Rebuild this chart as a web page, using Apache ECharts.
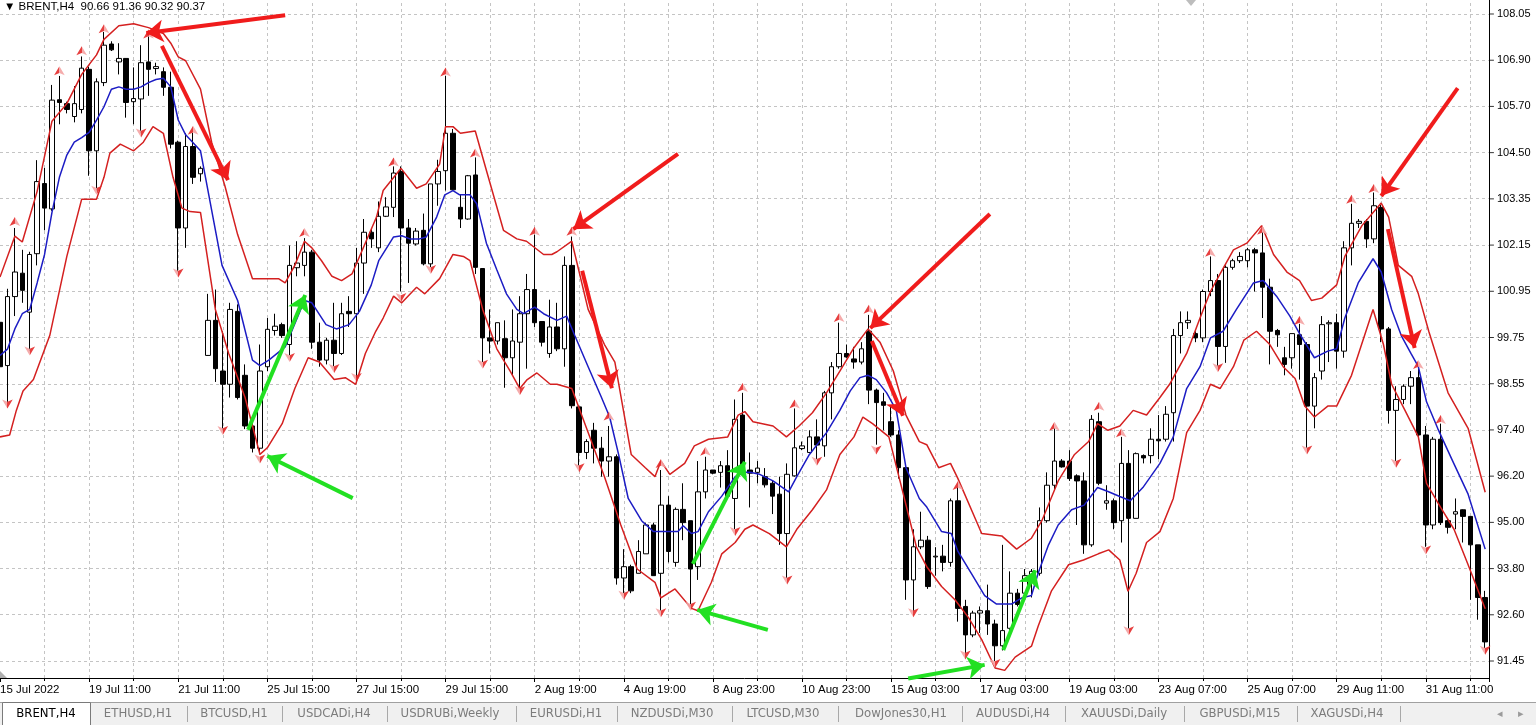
<!DOCTYPE html>
<html><head><meta charset="utf-8">
<script src="https://cdn.jsdelivr.net/npm/echarts@6/dist/echarts.min.js"></script>
<style>html,body{margin:0;padding:0;background:#fff;overflow:hidden}#c{width:1536px;height:725px}</style>
</head><body><div id="c"></div>
<script>
// ---------- DATA ----------
const opens  = [100.14,99.03,100.8,101.4,100.4,101.9,103.7,103.05,105.85,105.75,105.42,105.6,106.63,104.54,106.29,107.28,106.82,106.91,105.8,105.87,106.82,106.65,106.57,106.17,104.76,102.56,104.65,103.95,99.29,100.19,98.89,98.55,100.42,98.78,97.48,96.91,99.0,99.93,100.08,99.57,101.54,101.6,101.94,99.63,99.17,99.68,99.34,100.42,100.36,101.66,102.45,102.05,102.86,103.09,104.01,102.56,102.15,102.5,101.64,103.69,104.03,104.99,103.09,102.79,103.92,101.52,99.74,99.66,99.72,99.23,99.63,100.36,100.98,100.16,99.34,100.02,99.46,101.6,97.97,96.8,97.37,96.91,96.58,96.69,93.58,93.87,93.7,94.2,94.94,93.7,95.45,93.98,95.34,95.05,93.87,95.79,96.35,96.29,96.46,95.62,97.76,96.35,96.29,96.18,96.01,95.73,94.72,96.2,96.9,96.8,97.2,96.97,98.33,99.0,99.34,99.2,99.12,99.91,98.4,98.1,97.59,97.25,96.41,93.53,94.38,94.55,94.12,94.14,93.98,95.56,92.85,92.12,92.68,92.74,92.4,91.84,92.29,93.19,93.19,93.58,93.7,95.05,95.96,96.58,96.58,96.2,96.07,94.43,97.59,95.5,95.56,95.05,96.52,95.11,96.72,96.72,97.14,97.14,97.82,99.8,100.13,99.85,99.74,100.93,101.21,99.52,101.55,101.72,101.72,102.0,101.92,101.04,99.93,99.23,99.23,99.82,99.57,97.99,98.89,100.1,100.13,99.4,102.05,102.68,102.73,102.28,103.09,99.97,97.88,98.16,98.5,98.72,97.25,94.94,97.14,95.05,95.22,95.33,95.16,94.43,93.08];
const highs  = [100.4,101.0,102.56,102.0,101.95,104.3,104.1,106.23,106.46,105.8,106.2,106.96,106.7,106.4,107.59,107.35,107.3,106.92,106.68,107.25,107.47,106.8,106.68,106.57,104.8,104.99,105.0,104.14,100.87,100.98,99.91,100.64,100.6,99.06,97.59,99.57,100.25,100.36,100.13,102.11,102.22,102.3,102.0,100.13,99.74,100.64,100.64,100.81,102.05,102.79,102.56,103.24,103.35,104.14,104.14,102.79,102.56,102.93,103.69,104.31,106.46,105.1,103.41,103.92,104.37,101.52,100.47,100.13,100.19,100.47,100.81,101.38,102.39,100.16,100.72,100.64,101.83,102.34,98.0,97.14,97.56,97.2,97.48,96.75,94.32,93.92,94.55,95.0,95.0,96.35,95.68,95.39,96.01,95.05,96.58,96.69,96.35,96.58,96.86,98.16,98.33,96.8,96.58,96.4,96.07,96.18,96.52,97.93,97.08,97.37,97.65,98.38,99.12,100.13,99.57,99.51,99.63,100.33,98.44,98.33,97.99,97.37,96.52,94.83,95.28,94.66,94.37,94.43,95.62,95.9,93.02,92.74,92.85,93.41,92.51,94.43,93.75,93.3,93.81,93.81,95.39,96.29,97.42,96.63,96.86,96.24,96.29,97.76,97.82,95.96,95.62,97.2,96.86,96.8,96.75,97.42,97.76,97.99,99.97,100.42,100.42,99.91,100.98,101.83,101.38,101.6,101.77,101.94,102.05,102.05,102.45,101.26,99.97,99.51,99.85,100.1,99.63,98.84,100.3,100.19,100.36,102.22,103.18,102.79,102.79,103.47,103.15,100.02,98.5,98.55,98.89,98.95,97.48,97.2,97.54,95.11,95.62,95.34,95.16,94.43,93.25];
const lows   = [98.65,98.1,100.3,100.64,99.4,101.6,102.5,103.0,105.22,105.5,105.27,105.5,103.9,103.52,106.2,107.1,106.5,105.39,105.22,104.99,105.95,106.5,105.95,104.6,101.43,102.05,103.69,103.75,99.28,98.61,97.37,98.21,98.16,97.4,96.8,96.75,98.89,99.8,99.74,99.29,101.32,101.32,99.46,99.0,99.06,99.0,99.3,100.02,98.72,100.87,102.05,101.94,102.84,102.84,100.93,101.15,102.11,101.6,101.55,103.13,103.52,103.52,102.56,102.77,101.38,99.12,99.34,99.57,98.46,98.78,98.44,98.95,100.02,99.52,99.23,99.4,99.0,97.93,96.46,96.63,96.52,96.18,96.18,93.41,93.19,93.19,93.7,94.2,93.64,92.74,93.98,93.87,94.55,92.8,93.53,95.62,96.24,95.9,95.62,94.83,96.35,95.39,96.01,95.9,95.22,94.43,93.58,96.18,96.86,96.8,96.63,96.69,97.65,98.95,99.23,98.95,99.06,98.04,97.0,97.37,97.2,96.13,93.02,92.74,94.32,93.3,93.64,93.75,93.87,92.46,91.66,92.06,92.17,92.12,91.44,91.72,92.23,92.85,93.13,93.08,93.64,95.0,95.84,96.41,96.07,94.94,94.2,94.38,95.96,95.33,94.83,94.49,92.28,95.11,96.52,96.52,96.63,97.08,97.08,99.34,99.97,99.63,99.63,100.81,99.0,99.1,101.49,101.66,101.55,100.93,100.25,99.06,99.51,98.78,98.95,98.67,96.92,97.42,98.67,99.12,98.95,99.23,101.6,102.56,102.05,102.17,99.63,97.54,96.58,98.04,98.04,97.2,94.38,94.83,94.94,94.72,94.83,94.49,93.02,92.51,91.78];
const closes = [99.0,100.8,101.43,100.96,101.88,103.75,103.07,105.84,105.78,105.6,105.75,106.66,104.54,106.31,107.25,107.13,106.91,105.78,105.88,106.8,106.63,106.7,106.17,104.71,102.56,104.65,103.86,104.09,100.19,98.95,98.55,100.47,98.21,97.48,96.91,98.89,99.96,100.04,99.8,101.6,101.66,101.94,99.63,99.17,99.68,99.34,100.36,100.36,101.66,102.45,102.28,102.86,103.1,103.97,102.56,102.17,102.48,101.64,103.69,104.01,104.99,103.54,102.79,103.9,101.55,99.74,99.66,100.13,99.23,99.66,100.36,100.98,100.13,99.63,100.02,99.46,101.6,98.0,96.8,97.08,96.91,96.58,96.69,93.58,93.87,93.25,94.26,94.94,93.64,95.45,94.26,95.34,95.0,93.81,95.79,96.35,96.27,96.46,95.68,97.65,96.46,96.27,96.4,95.97,95.68,94.72,96.24,96.92,96.97,97.2,96.99,98.33,99.0,99.34,99.25,99.12,99.46,98.4,98.08,98.01,97.25,96.41,93.53,94.38,94.55,93.36,94.14,93.98,95.56,92.8,92.12,92.68,92.74,92.4,91.84,92.23,93.19,92.9,93.64,93.75,95.05,95.96,96.58,96.43,96.13,96.07,94.43,97.65,96.01,95.56,95.0,96.52,95.11,96.77,96.66,97.14,97.1,97.78,99.8,100.13,100.19,99.74,100.93,101.21,99.52,101.55,101.72,101.83,102.0,101.92,101.04,99.91,99.82,99.06,99.85,99.57,97.99,98.72,100.08,100.13,99.4,102.05,102.68,102.73,102.28,103.13,99.97,97.88,98.16,98.5,98.72,97.25,94.94,97.14,95.0,94.88,95.28,95.16,94.43,93.08,91.94];

// indicator lines: [bar, price]
const upperBand = [[0,101.3],[2,102.35],[3,102.2],[5,103.5],[7,105.3],[9,105.75],[11,106.5],[13,107.0],[14,107.4],[16,107.75],[18,107.8],[20,107.7],[22,107.55],[23,107.3],[24,106.95],[25,106.85],[27,106.12],[28.5,104.76],[30.3,103.63],[32,102.39],[34,101.26],[37.5,101.26],[38.4,101.15],[39.7,101.6],[41,102.22],[42,102.05],[43.3,101.72],[44.7,101.32],[46,101.21],[47.4,101.38],[49.3,102.22],[50.7,102.84],[51.6,103.52],[54,104.09],[56.1,103.58],[57.4,103.69],[59.2,104.2],[60,105.16],[61,105.16],[62,104.99],[64,105.05],[65.6,103.97],[67.8,102.5],[69.6,102.28],[70.9,102.22],[73.2,101.88],[74.3,101.88],[75,101.95],[77,102.22],[79.2,100.47],[81.4,99.57],[82.8,99.12],[85,96.75],[86.9,96.41],[88.2,96.18],[89,96.58],[90.2,96.24],[92.2,96.52],[93.5,96.97],[95.4,97.14],[98,97.2],[99.4,97.76],[100.3,97.85],[101.4,97.59],[104.1,97.48],[105.9,97.2],[107.6,97.48],[109.4,97.82],[111.3,98.33],[113.1,98.89],[114.9,99.46],[116.9,99.97],[118.5,99.63],[120.3,98.89],[122,97.76],[123.8,97.08],[124.8,97.0],[126.4,96.41],[128,96.52],[129,96.13],[132.2,94.72],[134.9,94.66],[136.9,94.32],[138.9,94.6],[140.3,95.05],[142.5,96.07],[144.7,96.75],[146.6,97.08],[147.8,97.54],[149.2,97.37],[150.8,97.48],[152.6,97.88],[154.4,97.76],[156.2,98.21],[157.5,98.55],[159.8,99.34],[161.6,100.25],[163,100.93],[164.3,101.38],[166.1,102.0],[167.9,102.17],[169.9,102.62],[171.5,101.88],[173.3,101.43],[175,101.21],[176.6,100.7],[178,100.76],[180,101.1],[181.1,101.83],[183.4,102.62],[186,103.2],[187,102.84],[188.3,101.6],[190.1,101.32],[191,100.87],[192.4,99.91],[195,98.33],[197.7,97.42],[200,95.78]];
const middleLine = [[0,99.29],[1,99.45],[2,99.97],[3,100.36],[4,100.47],[5,101.15],[6,101.88],[7,102.96],[8,103.86],[9,104.43],[10,104.76],[11,104.88],[12,105.01],[13,105.33],[14,105.67],[15,106.12],[16,106.18],[17,106.12],[18,106.12],[19,106.18],[20,106.29],[21,106.37],[22,106.4],[23,106.18],[24,105.33],[25,104.95],[27,104.54],[29.9,101.6],[32,100.7],[34,99.17],[35,99.03],[36.2,99.17],[38.4,99.51],[41,100.7],[42,100.64],[43.9,100.08],[45.3,99.97],[47,100.08],[48.4,100.42],[50,101.1],[51,101.72],[53,102.33],[54.1,102.36],[55.2,102.28],[56.5,102.28],[57.4,102.33],[58.8,102.84],[59.9,103.41],[61,103.52],[61.9,103.41],[63.3,103.41],[64.2,103.18],[65.5,102.17],[66.9,101.49],[68.2,100.87],[69.6,100.47],[70.5,100.36],[72,100.53],[73.2,100.36],[75,100.19],[76.3,100.3],[77.4,99.8],[79.2,99.0],[81,98.21],[82.1,97.71],[83.3,96.75],[84.6,95.62],[86.4,95.05],[88,94.77],[90,94.77],[91.3,94.77],[92,94.92],[93.1,94.72],[94,94.77],[95.4,95.28],[97.2,95.68],[99,96.18],[100.3,96.29],[101,96.29],[102.3,96.24],[104.1,96.07],[106.2,95.79],[107.3,96.18],[109,96.75],[111.3,97.31],[113.1,97.88],[114.5,98.38],[115.8,98.72],[116.9,98.78],[118,98.67],[119.4,98.33],[120.7,97.88],[122,96.41],[123.8,95.62],[124.8,95.4],[126.8,94.77],[128.1,94.72],[129,94.26],[130.8,93.7],[132.6,93.13],[134.2,92.91],[136.2,92.91],[137.6,93.07],[138.9,93.13],[139.8,93.7],[141.2,94.43],[142.5,94.94],[144.3,95.33],[146,95.45],[147.8,95.9],[149.2,95.8],[150.8,95.67],[152.2,95.56],[153.9,95.9],[156.2,96.52],[158,97.2],[159.8,98.44],[161.6,99.0],[163,99.74],[164.7,99.91],[166.5,100.47],[168.8,101.15],[170.1,101.21],[171.9,100.81],[173.7,100.3],[175,99.85],[177,99.23],[178.8,99.4],[180,99.46],[181.1,100.25],[182.9,101.15],[184.9,101.77],[186,101.43],[187.4,100.47],[188.7,99.8],[190,99.34],[191,99.0],[192.1,98.1],[193.6,97.42],[195.5,96.63],[197.7,95.73],[200,94.32]];
const lowerBand = [[0,97.2],[1.3,97.25],[2.2,97.88],[3.1,98.38],[4.5,98.67],[6.7,99.8],[9,101.83],[11,103.3],[13,103.3],[14,103.86],[14.8,104.48],[16.2,104.71],[18,104.54],[19.3,104.76],[20.6,105.16],[22,104.99],[23.3,103.86],[24.5,103.07],[25.6,102.98],[27,102.96],[29,100.47],[30.8,99.34],[33,98.21],[35,96.75],[36,96.92],[38,97.54],[39.7,98.44],[41.5,99.23],[43,99.12],[45,98.67],[46.5,98.72],[47.9,98.55],[49.2,99.34],[50.6,99.91],[51.6,100.25],[53,100.81],[54.1,100.64],[56.1,101.04],[57.2,100.87],[59.2,101.26],[61,101.88],[62.4,101.83],[63.3,101.72],[65,100.47],[66.9,99.46],[68.7,98.89],[70,98.44],[71,98.67],[72.3,98.84],[74.1,98.55],[75,98.55],[77,98.44],[79.2,97.31],[81.4,96.18],[83.6,94.94],[85.8,93.81],[88.2,93.47],[89,93.07],[90.9,93.3],[93.1,92.8],[94,92.74],[95.8,93.47],[97.2,94.2],[99,94.49],[100.3,94.83],[101.4,94.94],[103.6,94.72],[105.9,94.38],[107.3,94.83],[109.4,95.33],[111.3,95.84],[113.1,96.75],[115,97.2],[116.2,97.71],[117.5,97.54],[119.7,97.2],[121.5,95.84],[123.4,94.38],[124.8,93.87],[126.8,93.36],[128.6,93.02],[130.4,92.57],[132.2,92.0],[134,91.27],[135.3,91.21],[136.7,91.55],[138.9,91.83],[139.8,92.34],[141.6,93.25],[143.9,93.92],[145.9,94.04],[147.9,94.2],[149.3,94.3],[150.8,94.04],[151.9,93.24],[153,93.7],[154.4,94.49],[156.2,94.77],[158,95.62],[159.8,97.31],[161.6,97.88],[163,98.55],[164.3,98.44],[166.1,99.0],[167.5,99.68],[169.2,99.91],[171,99.57],[172.8,99.0],[174.4,98.7],[175.7,97.99],[177,97.71],[178.8,97.99],[180,97.99],[182,98.78],[184.9,100.47],[186.3,99.57],[187.4,98.55],[189.2,97.88],[191,97.2],[192.1,96.01],[194,95.39],[195.8,94.83],[197.7,93.92],[200,92.79]];

// fractal markers: [bar, price]
const upFractals = [[2,102.84],[8,106.71],[11,107.22],[14,107.79],[20,107.65],[26,105.18],[41,102.56],[53,104.37],[60,106.68],[64,104.6],[72,102.59],[77,102.59],[82,97.85],[89,96.63],[95,96.95],[100,98.58],[107,98.16],[113,100.38],[117,100.59],[129,96.07],[142,97.59],[148,98.1],[151,97.42],[163,102.05],[170,102.62],[175,100.3],[182,103.41],[185,103.69],[191,99.17],[194,97.76]];
const downFractals = [[1,97.93],[4,99.29],[13,103.41],[19,104.88],[24,101.29],[30,97.25],[35,96.52],[39,99.12],[45,98.84],[48,98.61],[54,100.66],[58,101.38],[65,98.95],[70,98.27],[78,96.29],[84,93.02],[89,92.57],[93,92.74],[99,94.66],[106,93.41],[110,96.46],[118,96.75],[123,92.57],[130,91.49],[134,91.27],[152,92.11],[164,98.86],[176,96.75],[188,96.41],[192,94.18],[200,91.61]];

// annotation arrows: [fromBar, fromPrice, toBar, toPrice]
const redArrows = [[38.4,108.02,19.7,107.56],[21.8,107.23,30.7,103.79],[91.3,104.46,77.2,102.53],[78.4,101.46,82.4,98.45],[133.3,102.92,117.2,99.99],[117.4,99.66,121.6,97.74],[196.3,106.15,186.0,103.38],[186.9,102.53,190.5,99.48]];
const greenArrows = [[33.4,97.38,41.1,100.84],[47.5,95.63,36.0,96.71],[93.3,93.94,100.3,96.56],[103.4,92.25,93.9,92.76],[135.1,91.73,139.4,93.78],[122.3,91.0,132.6,91.35]];

// axes
const xTickLabels = ['15 Jul 2022','19 Jul 11:00','21 Jul 11:00','25 Jul 15:00','27 Jul 15:00','29 Jul 15:00','2 Aug 19:00','4 Aug 19:00','8 Aug 23:00','10 Aug 23:00','15 Aug 03:00','17 Aug 03:00','19 Aug 03:00','23 Aug 07:00','25 Aug 07:00','29 Aug 11:00','31 Aug 11:00'];
const yTickValues = [108.05,106.864,105.679,104.493,103.307,102.121,100.936,99.75,98.564,97.379,96.193,95.007,93.821,92.636,91.45];
const yTickLabels = ['108.05','106.90','105.70','104.50','103.35','102.15','100.95','99.75','98.55','97.40','96.20','95.00','93.80','92.60','91.45'];
const headerText = '\u25BC BRENT,H4  90.66 91.36 90.32 90.37';
const tabNames = ['BRENT,H4','ETHUSD,H1','BTCUSD,H1','USDCADi,H4','USDRUBi,Weekly','EURUSDi,H1','NZDUSDi,M30','LTCUSD,M30','DowJones30,H1','AUDUSDi,H4','XAUUSDi,Daily','GBPUSDi,M15','XAGUSDi,H4'];

// ---------- LAYOUT ----------
const LABEL_STEP = 12, GRID_STEP = 6;
const tabCenters = [46,138,234,334,450,566,672,783,901,1013,1124,1240,1347];
const tabSeps = [187,282,387,516,617,732,838,962,1065,1184,1297,1400];
const FONT = 'Liberation Sans, Arial, sans-serif';
const TAB_FONT = '"DejaVu Sans Condensed", "Liberation Sans", sans-serif';

const nBars = opens.length;
const candles = opens.map((o, i) => [i, o, closes[i], lows[i], highs[i]]);
const vGrid = [];
for (let i = GRID_STEP; i < nBars; i += GRID_STEP) vGrid.push(i);

const chart = echarts.init(document.getElementById('c'), null, {renderer: 'canvas'});

const gridMarks = yTickValues.map((v, i) => ({
  yAxis: v,
  label: {show: true, position: 'end', distance: 8, formatter: yTickLabels[i], color: '#000', fontSize: 11, fontFamily: FONT}
})).concat(vGrid.map(i => ({xAxis: i, label: {show: false}})));

const fractalColor = new echarts.graphic.LinearGradient(0, 0, 1, 0, [
  {offset: 0, color: '#e42a2a'}, {offset: 0.5, color: '#e42a2a'},
  {offset: 0.5, color: '#f4a2a2'}, {offset: 1, color: '#f4a2a2'}]);

const graphics = [
  {type: 'text', left: 4, top: 1, z: 50, style: {text: headerText, fill: '#000', font: '11.5px ' + FONT}},
  {type: 'polygon', z: 50, shape: {points: [[1186,0],[1196,0],[1191,6]]}, style: {fill: '#bdbdbd'}},
  {type: 'polygon', z: 50, shape: {points: [[0,671],[7,678],[0,678]]}, style: {fill: '#b0b0b0'}},
  {type: 'rect', z: 40, shape: {x: 0, y: 702, width: 1536, height: 23}, style: {fill: '#f0f0f0'}},
  {type: 'line', z: 41, shape: {x1: 0, y1: 702.5, x2: 1536, y2: 702.5}, style: {stroke: '#a0a0a0', lineWidth: 1}},
  {type: 'rect', z: 42, shape: {x: 2.5, y: 702.5, width: 88, height: 25}, style: {fill: '#fff', stroke: '#7a7a7a', lineWidth: 1}},
  {type: 'text', z: 45, x: 1500, y: 714, style: {text: '\u25C2', fill: '#9a9a9a', font: '11px ' + FONT, textAlign: 'center', textVerticalAlign: 'middle'}},
  {type: 'text', z: 45, x: 1521, y: 714, style: {text: '\u25B8', fill: '#9a9a9a', font: '11px ' + FONT, textAlign: 'center', textVerticalAlign: 'middle'}}
];
tabNames.forEach((t, i) => {
  graphics.push({type: 'text', z: 45, x: tabCenters[i], y: 714,
    style: {text: t, fill: i === 0 ? '#000' : '#7c7c7c', font: '13px ' + TAB_FONT, textAlign: 'center', textVerticalAlign: 'middle'}});
});
tabSeps.forEach(x => {
  graphics.push({type: 'line', z: 45, shape: {x1: x + 0.5, y1: 706, x2: x + 0.5, y2: 722}, style: {stroke: '#a8a8a8', lineWidth: 1}});
});

const bandStyle = (color) => ({type: 'line', showSymbol: false, symbol: 'none', z: 3,
  lineStyle: {color: color, width: 1.5}, animation: false, silent: true});

const option = {
  animation: false,
  backgroundColor: '#fff',
  grid: {left: 0, right: 47.1, top: 0, bottom: 47, containLabel: false, outerBoundsMode: 'none'},
  xAxis: [
    {type: 'value', min: 0, max: nBars - 0.5, interval: LABEL_STEP,
     axisLine: {show: true, onZero: false, lineStyle: {color: '#000', width: 1}},
     axisTick: {show: true, length: 4, lineStyle: {color: '#000'}},
     minorTick: {show: true, splitNumber: 2, length: 3, lineStyle: {color: '#000'}},
     axisLabel: {show: true, showMinLabel: true, showMaxLabel: false,
       formatter: (v) => (v % LABEL_STEP === 0 ? (xTickLabels[v / LABEL_STEP] || '') : ''),
       align: 'left', margin: 6, fontSize: 11.5, color: '#000', fontFamily: FONT},
     splitLine: {show: false}, minorSplitLine: {show: false}}
  ],
  yAxis: [{type: 'value', position: 'right', min: 91.014, max: 108.409,
    axisLine: {show: true, onZero: false, lineStyle: {color: '#000', width: 1}}, axisTick: {show: false},
    axisLabel: {show: false}, splitLine: {show: false}}],
  graphic: graphics,
  series: [
    {type: 'line', name: 'grid', data: [], z: 1, silent: true,
     markLine: {silent: true, symbol: ['none', 'none'], z: 1, animation: false,
       lineStyle: {color: '#c4c4c4', width: 1, type: [3, 3]}, data: gridMarks}},
    {type: 'scatter', name: 'ticks', z: 2, silent: true, clip: false,
     data: yTickValues.map(v => [nBars - 0.5, v]), symbol: 'rect', symbolSize: [4, 1], symbolOffset: [3, 0],
     itemStyle: {color: '#000'}},
    {type: 'candlestick', name: 'BRENT', data: candles, barWidth: 5, z: 2, clip: false,
     itemStyle: {color: '#fff', color0: '#000', borderColor: '#000', borderColor0: '#000', borderWidth: 1}},
    Object.assign(bandStyle('#d42020'), {name: 'upper', data: upperBand}),
    Object.assign(bandStyle('#1c1cc4'), {name: 'middle', data: middleLine}),
    Object.assign(bandStyle('#d42020'), {name: 'lower', data: lowerBand}),
    {type: 'scatter', name: 'fractalUp', data: upFractals, z: 4, silent: true,
     symbol: 'arrow', symbolSize: [8, 9], itemStyle: {color: fractalColor, opacity: 0.9}},
    {type: 'scatter', name: 'fractalDown', data: downFractals, z: 4, silent: true,
     symbol: 'arrow', symbolRotate: 180, symbolSize: [8, 9], itemStyle: {color: fractalColor, opacity: 0.9}},
    {type: 'lines', coordinateSystem: 'cartesian2d', z: 6, silent: true, clip: false,
     data: redArrows.map(a => ({coords: [[a[0], a[1]], [a[2], a[3]]]})),
     symbol: ['none', 'arrow'], symbolSize: 17, lineStyle: {color: '#f01c1c', width: 4, opacity: 1, curveness: 0}},
    {type: 'lines', coordinateSystem: 'cartesian2d', z: 6, silent: true, clip: false,
     data: greenArrows.map(a => ({coords: [[a[0], a[1]], [a[2], a[3]]]})),
     symbol: ['none', 'arrow'], symbolSize: 17, lineStyle: {color: '#22e022', width: 4, opacity: 1, curveness: 0}}
  ]
};
chart.setOption(option);
</script>
</body></html>
